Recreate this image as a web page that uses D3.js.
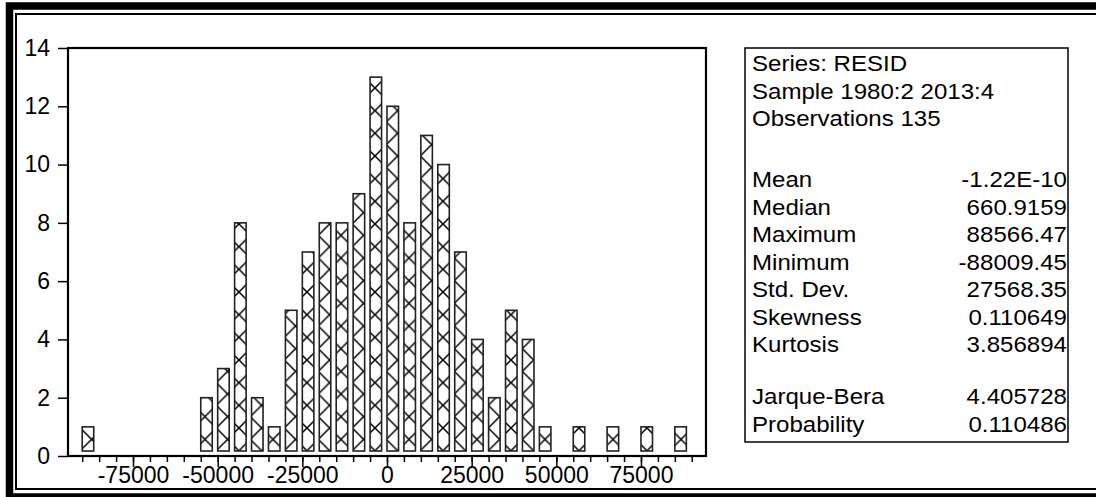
<!DOCTYPE html>
<html>
<head>
<meta charset="utf-8">
<script src="https://cdn.jsdelivr.net/npm/d3@7"></script>
<style>
  body { margin: 0; background: #fff; }
  svg { display: block; }
</style>
</head>
<body>
<div class="histogram"></div>
<script>
// Residual histogram: lower edge of each non-empty bin (bin width 5000) and its count
const binLow = [-90000, -55000, -50000, -45000, -40000, -35000, -30000, -25000, -20000, -15000,
                -10000, -5000, 0, 5000, 10000, 15000, 20000, 25000, 30000, 35000,
                40000, 45000, 55000, 65000, 75000, 85000];
const counts = [1, 2, 3, 8, 2, 1, 5, 7, 8, 8,
                9, 13, 12, 8, 11, 10, 7, 4, 2, 5,
                4, 1, 1, 1, 1, 1];
const binWidth = 5000;

const yTicks = [0, 2, 4, 6, 8, 10, 12, 14];
const xMajorTicks = [-75000, -50000, -25000, 0, 25000, 50000, 75000];

const headerLines = ["Series: RESID", "Sample 1980:2 2013:4", "Observations 135"];
const statNames = ["Mean", "Median", "Maximum", "Minimum", "Std. Dev.", "Skewness", "Kurtosis"];
const statValues = ["-1.22E-10", "660.9159", "88566.47", "-88009.45", "27568.35", "0.110649", "3.856894"];
const testNames = ["Jarque-Bera", "Probability"];
const testValues = ["4.405728", "0.110486"];

document.addEventListener('DOMContentLoaded', function() {
  const width = 1096;
  const height = 497;
  const font = "'Liberation Sans', Arial, sans-serif";

  const svg = d3.select('.histogram')
      .append('svg')
      .attr('width', width)
      .attr('height', height);

  // double frame round the whole graph (right side runs off the picture)
  svg.append('rect')
      .attr('x', 9.5).attr('y', 6)
      .attr('width', 1200).attr('height', 491)
      .attr('fill', 'none').attr('stroke', '#000').attr('stroke-width', 7.5);
  svg.append('rect')
      .attr('x', 16).attr('y', 14)
      .attr('width', 1200).attr('height', 475)
      .attr('fill', 'none').attr('stroke', '#000').attr('stroke-width', 2);

  const plot = {left: 68, right: 706, top: 48, bottom: 456};

  const x = d3.scaleLinear()
      .domain([-94200, 94200])
      .range([plot.left, plot.right]);
  const y = d3.scaleLinear()
      .domain([0, 14])
      .range([plot.bottom, plot.top]);

  // diagonal cross hatch, anchored in page space
  const P = 22.67;
  svg.append('defs').append('pattern')
      .attr('id', 'xhatch')
      .attr('patternUnits', 'userSpaceOnUse')
      .attr('x', 647).attr('y', 428)
      .attr('width', P).attr('height', P)
      .append('path')
      .attr('d', `M${-P},${-P}L${2 * P},${2 * P}M${-P},${2 * P}L${2 * P},${-P}`)
      .attr('stroke', '#000')
      .attr('stroke-width', 1.5)
      .attr('fill', 'none');

  const bins = binLow.map((lo, i) => ({lo: lo, n: counts[i]}));
  const barGap = 5;

  const bars = svg.append('g')
      .selectAll('.bar')
      .data(bins)
      .enter().append('g')
      .attr('class', 'bar');

  bars.append('rect')
      .attr('x', d => x(d.lo))
      .attr('y', d => y(d.n))
      .attr('width', d => (x(d.lo + binWidth) - x(d.lo)) * 0.68)
      .attr('height', d => y(0) - barGap - y(d.n))
      .attr('fill', '#fff');
  bars.append('rect')
      .attr('x', d => x(d.lo))
      .attr('y', d => y(d.n))
      .attr('width', d => (x(d.lo + binWidth) - x(d.lo)) * 0.68)
      .attr('height', d => y(0) - barGap - y(d.n))
      .attr('fill', 'url(#xhatch)')
      .attr('stroke', '#222')
      .attr('stroke-width', 1.6);

  // plot box
  svg.append('rect')
      .attr('x', plot.left).attr('y', plot.top)
      .attr('width', plot.right - plot.left)
      .attr('height', plot.bottom - plot.top)
      .attr('fill', 'none').attr('stroke', '#000').attr('stroke-width', 2.2);

  // y axis
  const yAxis = svg.append('g')
      .attr('transform', `translate(${plot.left},0)`)
      .call(d3.axisLeft(y).tickValues(yTicks).tickSize(10).tickPadding(8).tickFormat(d => String(d)));
  yAxis.select('.domain').remove();
  yAxis.selectAll('line').attr('stroke', '#000').attr('stroke-width', 1.5);
  yAxis.selectAll('text')
      .attr('font-family', font).attr('font-size', 23).attr('fill', '#000');

  // x axis: minor ticks every bin edge, longer ticks with labels
  const xMinor = svg.append('g')
      .attr('transform', `translate(0,${plot.bottom})`)
      .call(d3.axisBottom(x).tickValues(d3.range(-90000, 90001, binWidth)).tickSize(6).tickFormat(''));
  xMinor.select('.domain').remove();
  xMinor.selectAll('line').attr('stroke', '#000').attr('stroke-width', 1.5);

  const xMajor = svg.append('g')
      .attr('transform', `translate(0,${plot.bottom})`)
      .call(d3.axisBottom(x).tickValues(xMajorTicks).tickSize(11).tickPadding(0).tickFormat(d => String(d)));
  xMajor.select('.domain').remove();
  xMajor.selectAll('line').attr('stroke', '#000').attr('stroke-width', 1.5);
  xMajor.selectAll('text')
      .attr('font-family', font).attr('font-size', 23).attr('fill', '#000');

  // statistics box
  const box = {left: 745, top: 48, right: 1068, bottom: 442};
  svg.append('rect')
      .attr('x', box.left).attr('y', box.top)
      .attr('width', box.right - box.left)
      .attr('height', box.bottom - box.top)
      .attr('fill', '#fff').attr('stroke', '#000').attr('stroke-width', 1.5);

  const lineH = 27.5;
  const sx = 1.12;
  const textLeft = box.left + 7;
  const textRight = box.right - 1;

  function addText(str, tx, ty, anchor) {
    svg.append('text')
        .attr('transform', `translate(${tx},${ty}) scale(${sx},1)`)
        .attr('text-anchor', anchor)
        .attr('font-family', font)
        .attr('font-size', 21.5)
        .attr('fill', '#000')
        .text(str);
  }

  headerLines.forEach((s, i) => addText(s, textLeft, 71 + i * lineH, 'start'));
  statNames.forEach((s, i) => {
    addText(s, textLeft, 187 + i * lineH, 'start');
    addText(statValues[i], textRight, 187 + i * lineH, 'end');
  });
  testNames.forEach((s, i) => {
    addText(s, textLeft, 404 + i * lineH, 'start');
    addText(testValues[i], textRight, 404 + i * lineH, 'end');
  });
});
</script>
</body>
</html>
